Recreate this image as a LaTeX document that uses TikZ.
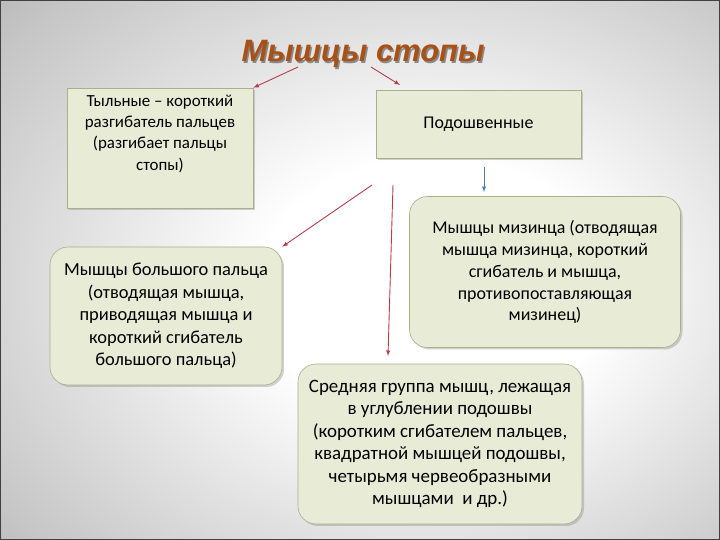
\documentclass[tikz,border=0pt]{standalone}
\usepackage{fontspec}
\setmainfont{Carlito}
\newfontfamily\titlefont{Liberation Sans}
\usetikzlibrary{shapes,shadows}
\definecolor{boxfill}{RGB}{232,236,214}
\definecolor{boxline}{RGB}{168,176,138}
\definecolor{arrred}{RGB}{185,60,75}
\definecolor{arrblue}{RGB}{80,120,180}
\definecolor{titlecol}{RGB}{168,80,22}
\pgfdeclareradialshading{slidebg}{\pgfpoint{6bp}{-2bp}}{color(0bp)=(white); color(12bp)=(white); color(35bp)=(gray!45); color(55bp)=(gray!95); color(75bp)=(gray!80!black)}

\begin{document}
\begin{tikzpicture}[x=1bp,y=-1bp]
	\tikzstyle{every node}+=[inner sep=0pt]
	\tikzstyle{box}=[draw=boxline, fill=boxfill, line width=0.6pt, align=center, drop shadow={shadow xshift=2pt,shadow yshift=-2pt,opacity=0.35}]
	\tikzstyle{rbox}=[box, rounded corners=18bp]
	\tikzstyle{arr}=[draw=arrred, line width=0.9pt, -latex]
	\tikzstyle{ttl}=[font=\titlefont\bfseries\itshape\fontsize{31}{36}\selectfont]
	\useasboundingbox (0,0) rectangle (720,540);
	\shade [shading=slidebg] (0,0) rectangle (720,540);
	\draw [black!75, line width=1.5pt] (0,0) rectangle (720,540);
	\node [ttl, text=black, opacity=0.4] (titlesh) at (364.5,55.5) {Мышцы стопы};
	\node [ttl, text=titlecol] (title) at (363,54) {Мышцы стопы};
	\node [box, font=\fontsize{17}{21.5}\selectfont, minimum width=186bp, minimum height=120bp, text depth=31bp] (dors) at (160,148) {Тыльные -- короткий\\разгибатель пальцев\\(разгибает пальцы\\стопы)};
	\node [box, font=\fontsize{18}{22}\selectfont, minimum width=205bp, minimum height=68bp] (plant) at (478.5,124) {Подошвенные};
	\node [rbox, font=\fontsize{18}{22}\selectfont, minimum width=271bp, minimum height=151bp] (minim) at (545,272) {Мышцы мизинца (отводящая\\мышца мизинца, короткий\\сгибатель и мышца,\\противопоставляющая\\мизинец)};
	\node [rbox, font=\fontsize{18.5}{22.5}\selectfont, minimum width=232bp, minimum height=138bp] (hallux) at (166,316) {Мышцы большого пальца\\(отводящая мышца,\\приводящая мышца и\\короткий сгибатель\\большого пальца)};
	\node [rbox, font=\fontsize{19}{22.5}\selectfont, minimum width=284bp, minimum height=160bp] (mid) at (440,444) {Средняя группа мышц, лежащая\\в углублении подошвы\\(коротким сгибателем пальцев,\\квадратной мышцей подошвы,\\четырьмя червеобразными\\мышцами\ \ и др.)};
	\coordinate (t1) at (298,67);
	\coordinate (t2) at (371,67);
	\coordinate (e2) at (400,85);
	\coordinate (p1) at (372,185);
	\coordinate (p2) at (393,185);
	\coordinate (e4) at (388,356);
	\coordinate (b1) at (484,167);
	\coordinate (b2) at (484,192);
	\draw [arr] (t1) -- (dors.north east);
	\draw [arr] (t2) -- (e2);
	\draw [arr] (p1) -- (hallux.north east);
	\draw [arr] (p2) -- (e4);
	\draw [arr, draw=arrblue] (b1) -- (b2);
\end{tikzpicture}
\end{document}
